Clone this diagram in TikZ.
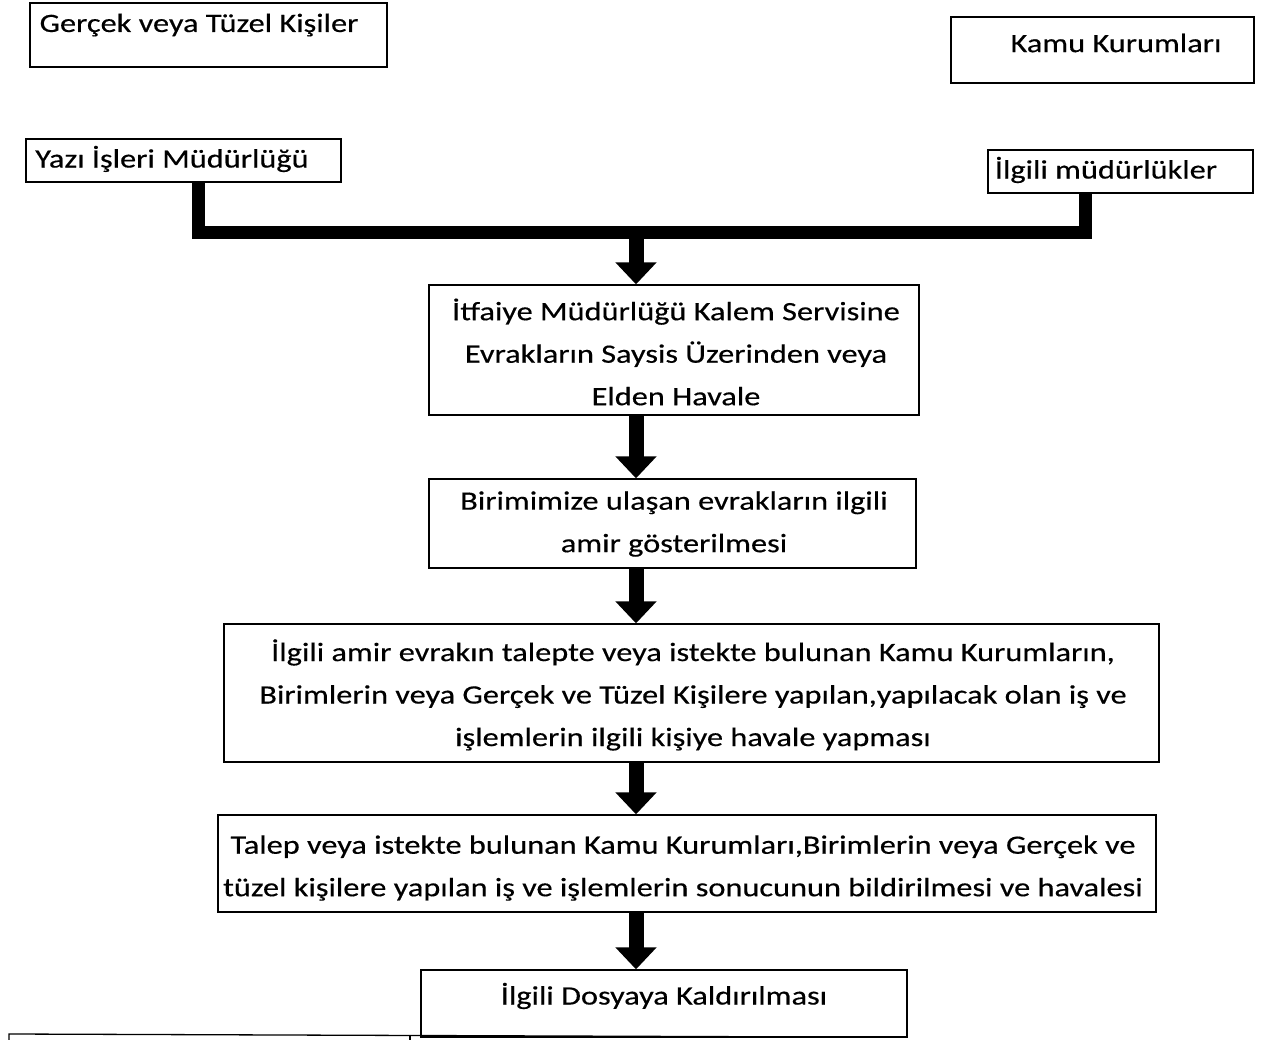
\documentclass[tikz,border=0pt]{standalone}
\usepackage{fontspec}
\setmainfont{Carlito}[FakeStretch=1.22,FakeBold=0.4]
\usetikzlibrary{arrows.meta}
\begin{document}
\begin{tikzpicture}[x=1pt,y=-1pt,
  box/.style={draw=black,line width=1.3pt,rectangle,inner sep=0pt,fill=none},
  txt/.style={inner sep=0pt,align=center,font=\fontsize{26.5}{42.5}\selectfont},
  conn/.style={line width=13pt,draw=black,line join=miter},
  arr/.style={line width=15pt,draw=black,-{Triangle[width=40pt,length=22pt]}}]
\useasboundingbox (0,0) rectangle (1262,1040);
% boxes
\node[box,minimum width=357pt,minimum height=64pt] (g) at (208.5,35) {};
\node[box,minimum width=303pt,minimum height=66pt] (k) at (1102.5,50) {};
\node[box,minimum width=315pt,minimum height=43pt] (yaz) at (183.5,160.5) {};
\node[box,minimum width=265pt,minimum height=43pt] (ilg) at (1120.5,171.5) {};
\node[box,minimum width=490pt,minimum height=130pt] (itf) at (674,350) {};
\node[box,minimum width=487pt,minimum height=89pt] (bir) at (672.5,523.5) {};
\node[box,minimum width=935pt,minimum height=138pt] (amir) at (691.5,693) {};
\node[box,minimum width=938pt,minimum height=97pt] (tal) at (687,863.5) {};
\node[box,minimum width=486pt,minimum height=67pt] (dos) at (664,1003.5) {};
% texts
\node[txt] (gt) at (199,25) {Gerçek veya Tüzel Kişiler};
\node[txt] (kt) at (1116,43) {Kamu Kurumları};
\node[txt] (yt) at (172,159) {Yazı İşleri Müdürlüğü};
\node[txt] (it) at (1106,170) {İlgili müdürlükler};
\node[txt] (itft) at (676,352) {İtfaiye Müdürlüğü Kalem Servisine\\Evrakların Saysis Üzerinden veya\\Elden Havale};
\node[txt] (birt) at (674,524) {Birimimize ulaşan evrakların ilgili\\amir gösterilmesi};
\node[txt] (amirt) at (693,695) {İlgili amir evrakın talepte veya istekte bulunan Kamu Kurumların,\\Birimlerin veya Gerçek ve Tüzel Kişilere yapılan,yapılacak olan iş ve\\işlemlerin ilgili kişiye havale yapması};
\node[txt] (talt) at (683,868) {Talep veya istekte bulunan Kamu Kurumları,Birimlerin veya Gerçek ve\\tüzel kişilere yapılan iş ve işlemlerin sonucunun bildirilmesi ve havalesi};
\node[txt] (dost) at (664,996) {İlgili Dosyaya Kaldırılması};
% connectors
\coordinate (c1) at (198,0);
\coordinate (c2) at (1085,0);
\coordinate (jn) at (636,233);
\draw[conn] (yaz.south -| c1) |- (jn) -| (ilg.south -| c2);
\draw[arr] (jn) -- (itf.north -| jn);
\draw[arr] (itf.south -| jn) -- (bir.north -| jn);
\draw[arr] (bir.south -| jn) -- (amir.north -| jn);
\draw[arr] (amir.south -| jn) -- (tal.north -| jn);
\draw[arr] (tal.south -| jn) -- (dos.north -| jn);
% partial box at the bottom edge
\draw[line width=1.3pt] (9,1041) -- (9,1034) -- (825,1037);
\draw[line width=1.3pt] (410,1041) -- (410,1036);
\end{tikzpicture}
\end{document}
